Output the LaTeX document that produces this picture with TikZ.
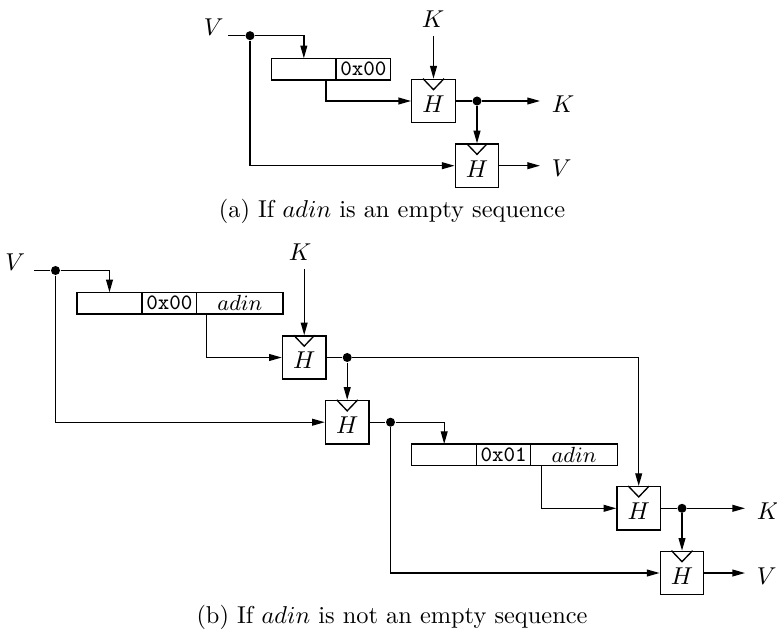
\documentclass[tikz,border=0pt]{standalone}
\usetikzlibrary{arrows.meta,calc}
\begin{document}
\begin{tikzpicture}[x=0.41pt,y=-0.41pt,line width=0.55pt,
  arr/.style={-{Triangle[length=5.2pt,width=2.8pt]}},
  hbox/.style={draw,inner sep=0pt,minimum width=17.85pt,minimum height=17.75pt,text height=9.4pt,text depth=0pt},
  cell/.style={draw,inner sep=0pt,outer sep=0pt,minimum height=8.9pt,font=\small,anchor=west},
  dotnode/.style={circle,fill=black,inner sep=0pt,minimum size=3.7pt},
  outlab/.style={anchor=west,inner xsep=4.6pt,inner ysep=0pt,text height=9.2pt,text depth=0pt},
  inlab/.style={anchor=base east,inner ysep=0pt},
  toplab/.style={inner sep=3.3pt}]
\useasboundingbox (0,0) rectangle (777,634);
% ---------- (a) ----------
\node[hbox] (h1) at (433.5,101) {$H$};
\node[hbox] (h2) at (477,165.7) {$H$};
\node[dotnode] (d1) at (250,35.7) {};
\node[dotnode] (d2) at (477,101) {};
\node[toplab] (Ka) at (433,19) {$K$};
\node[inlab,inner xsep=1.6pt] (Va) at (228,35.7) {$V$};
\node[outlab] (Ko) at (540,101) {$K$};
\node[outlab] (Vo) at (540,165.7) {$V$};
\node[cell,minimum width=26.36pt,anchor=north west] (a1) at (271.7,58.3) {};
\node[cell,minimum width=22.43pt] (a2) at (a1.east) {\texttt{0x00}};
\draw (Va.base east) -- (d1);
\draw[arr] (d1) -| (a1.north);
\draw[arr] (d1) |- (h2.west);
\draw[arr] ($(a2.south west)+(-10,0)$) |- (h1.west);
\draw[arr] (h1.north |- Ka.south) -- (h1.north);
\draw (h1.east) -- (d2);
\draw[arr] (d2) -- (Ko.west);
\draw[arr] (d2) -- (h2.north);
\draw[arr] (h2.east) -- (Vo.west);
\node[anchor=base] (capa) at (392,217.3) {(a) If $adin$ is an empty sequence};
% ---------- (b) ----------
\node[hbox] (g1) at (304.2,357.5) {$H$};
\node[hbox] (g2) at (347.2,422.2) {$H$};
\node[hbox] (g3) at (638.7,508.3) {$H$};
\node[hbox] (g4) at (682,573) {$H$};
\node[dotnode] (e1) at (55.5,270.5) {};
\node[dotnode] (e2) at (347.2,357.5) {};
\node[dotnode] (e3) at (390.5,422.2) {};
\node[dotnode] (e4) at (682,508.3) {};
\node[toplab] (Kb) at (300,252) {$K$};
\node[inlab,inner xsep=3.5pt] (Vb) at (34.3,270.5) {$V$};
\node[outlab] (Kc) at (745,508.3) {$K$};
\node[outlab] (Vc) at (745,573) {$V$};
\node[cell,minimum width=26.65pt,anchor=north west] (b1) at (77,292.3) {};
\node[cell,minimum width=22.43pt] (b2) at (b1.east) {\texttt{0x00}};
\node[cell,minimum width=35.38pt] (b3) at (b2.east) {$adin$};
\node[cell,minimum width=26.65pt,anchor=north west] (c1) at (411.7,444) {};
\node[cell,minimum width=22.14pt] (c2) at (c1.east) {\texttt{0x01}};
\node[cell,minimum width=35.5pt] (c3) at (c2.east) {$adin$};
\draw (Vb.base east) -- (e1);
\draw[arr] (e1) -| (b1.north);
\draw[arr] (e1) |- (g2.west);
\draw[arr] ($(b3.south west)+(10,0)$) |- (g1.west);
\draw[arr] (g1.north |- Kb.south) -- (g1.north);
\draw (g1.east) -- (e2);
\draw[arr] (e2) -- (g2.north);
\draw[arr] (e2) -| (g3.north);
\draw (g2.east) -- (e3);
\draw[arr] (e3) -| (c1.north);
\draw[arr] (e3) |- (g4.west);
\draw[arr] ($(c3.south west)+(11,0)$) |- (g3.west);
\draw (g3.east) -- (e4);
\draw[arr] (e4) -- (Kc.west);
\draw[arr] (e4) -- (g4.north);
\draw[arr] (g4.east) -- (Vc.west);
\node[anchor=base] (capb) at (392,623.3) {(b) If $adin$ is not an empty sequence};
% notches
\foreach \n in {h1,h2,g1,g2,g3,g4}
  \draw ([xshift=-4.3pt]\n.north) -- ([yshift=-4.5pt]\n.north) -- ([xshift=4.3pt]\n.north);
\end{tikzpicture}
\end{document}
